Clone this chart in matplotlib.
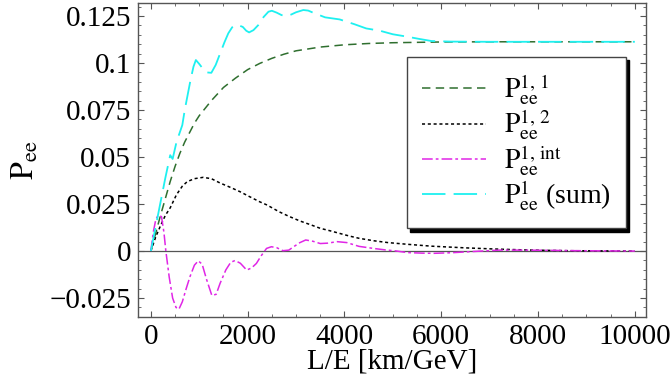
import matplotlib
matplotlib.use("Agg")
import matplotlib.pyplot as plt
from matplotlib.ticker import MultipleLocator

plt.rcParams["font.family"] = ["Liberation Serif", "DejaVu Serif"]
plt.rcParams["mathtext.fontset"] = "stix"

# ── values (L/E in km/GeV, P_ee) ────────────────────────────────────────────
le_11 = [0, 100, 200, 300, 400, 500, 600, 700, 800, 900, 1000, 1250, 1500, 1750,
         2000, 2250, 2500, 2750, 3000, 3500, 4000, 4500, 5000, 5500, 6000, 7000,
         8000, 9000, 10000]
p_11 = [0, 0.0095, 0.019, 0.028, 0.037, 0.045, 0.052, 0.058, 0.063, 0.068, 0.072,
        0.080, 0.087, 0.092, 0.0965, 0.0998, 0.1025, 0.1047, 0.1065, 0.1085, 0.1097,
        0.1104, 0.1108, 0.1110, 0.1112, 0.1113, 0.1113, 0.1113, 0.1113]

le_12 = [0, 100, 200, 300, 400, 530, 650, 750, 900, 1080, 1250, 1430, 1650, 1840,
         2050, 2250, 2400, 2650, 2850, 3080, 3300, 3500, 3700, 3900, 4100, 4300,
         4600, 4900, 5300, 5800, 6500, 7200, 7900, 8600, 10000]
p_12 = [0, 0.0075, 0.0135, 0.019, 0.023, 0.0300, 0.0345, 0.0369, 0.0385, 0.0392,
        0.0385, 0.0362, 0.0338, 0.0316, 0.0288, 0.0262, 0.0245, 0.0209, 0.0185,
        0.0160, 0.0140, 0.0121, 0.0108, 0.0094, 0.0080, 0.0068, 0.0055, 0.0045,
        0.0036, 0.0026, 0.0017, 0.0010, 0.0005, 0.0002, 0.0]

le_int = [0, 50, 100, 150, 220, 270, 310, 380, 450, 520, 580, 650, 730, 810, 900,
          980, 1060, 1150, 1260, 1350, 1430, 1550, 1650, 1740, 1850, 1980, 2080,
          2180, 2280, 2390, 2490, 2600, 2730, 2850, 2950, 3080, 3200, 3350, 3500,
          3650, 3850, 4050, 4300, 4600, 4850, 5050, 5300, 5600, 5850, 6200, 6550,
          6900, 7200, 7600, 8200, 8800, 9400, 10000]
p_int = [0, 0.010, 0.0165, 0.0191, 0.0183, 0.010, 0.0, -0.014, -0.025, -0.0300,
         -0.0309, -0.027, -0.020, -0.0135, -0.0075, -0.0052, -0.0070, -0.0150,
         -0.0236, -0.0230, -0.0172, -0.0100, -0.0060, -0.0050, -0.0065, -0.0101,
         -0.0090, -0.0066, -0.0025, 0.0014, 0.0023, 0.0018, 0.0002, 0.0005, 0.0023,
         0.0045, 0.0059, 0.0052, 0.0040, 0.0042, 0.0050, 0.0045, 0.0025, 0.0014,
         0.0006, 0.0001, -0.0008, -0.0011, -0.0012, -0.0009, -0.0004, 0.0001,
         0.0005, 0.0005, 0.0004, 0.0002, 0.0001, 0.0]

le_sum = [0, 100, 200, 300, 400, 450, 530, 650, 700, 760, 820, 880, 930, 1000, 1080,
          1160, 1250, 1340, 1430, 1520, 1600, 1680, 1740, 1820, 1900, 1970, 2030,
          2120, 2220, 2330, 2430, 2500, 2600, 2700, 2800, 2900, 3000, 3150, 3250,
          3350, 3600, 3900, 4200, 4450, 4730, 5000, 5300, 5550, 5800, 6200, 7000,
          8000, 9000, 10000]
p_sum = [0, 0.013, 0.026, 0.039, 0.051, 0.049, 0.058, 0.067, 0.075, 0.083, 0.091,
         0.098, 0.1016, 0.0995, 0.0968, 0.0950, 0.0948, 0.0990, 0.1050, 0.1110,
         0.1158, 0.1190, 0.1202, 0.1200, 0.1192, 0.1172, 0.1163, 0.1175, 0.1202,
         0.1245, 0.1273, 0.1278, 0.1268, 0.1255, 0.1250, 0.1258, 0.1270, 0.1282,
         0.1279, 0.1268, 0.1243, 0.1232, 0.1207, 0.1184, 0.1172, 0.1153, 0.1140,
         0.1128, 0.1117, 0.1114, 0.1113, 0.1113, 0.1113, 0.1113]

labels = [r"$\mathrm{P}_{\mathrm{ee}}^{1,\,1}$",
          r"$\mathrm{P}_{\mathrm{ee}}^{1,\,2}$",
          r"$\mathrm{P}_{\mathrm{ee}}^{1,\,\mathrm{int}}$",
          r"$\mathrm{P}_{\mathrm{ee}}^{1}$ (sum)"]

fig = plt.figure(figsize=(6.71, 3.82), dpi=100)
ax = fig.add_axes([0.2057, 0.170, 0.7570, 0.822])

ax.axhline(0, color="#555555", lw=0.9, zorder=1)
ax.plot(le_11, p_11, color="#2f6f2f", lw=1.1, dashes=(5.5, 3.5), label=labels[0])
ax.plot(le_12, p_12, color="black", lw=1.1, dashes=(2.0, 1.8), label=labels[1])
ax.plot(le_int, p_int, color="#e026e6", lw=1.1, dashes=(7.0, 2.0, 1.8, 2.0), label=labels[2])
ax.plot(le_sum, p_sum, color="#1ef0f0", lw=1.3, dashes=(13.0, 4.5), label=labels[3])

ax.set_xlim(-265, 10230)
ax.set_ylim(-0.0351, 0.1319)
ax.xaxis.set_major_locator(MultipleLocator(2000))
ax.xaxis.set_minor_locator(MultipleLocator(500))
ax.yaxis.set_minor_locator(MultipleLocator(0.005))
ax.set_yticks([-0.025, 0, 0.025, 0.05, 0.075, 0.1, 0.125])
ax.set_yticklabels(["\u22120.025", "0", "0.025", "0.05", "0.075", "0.1", "0.125"])
ax.tick_params(which="both", direction="in", top=True, right=True,
               color="#555555", labelsize=21, pad=5)
ax.tick_params(which="major", length=4, width=0.8)
ax.tick_params(which="minor", length=2, width=0.6)
for s in ax.spines.values():
    s.set_color("#555555")
    s.set_linewidth(1.0)

ax.set_xlabel("L/E [km/GeV]", fontsize=21, labelpad=-1)
ax.set_ylabel(r"$\mathrm{P}_{\mathrm{ee}}$", fontsize=23, labelpad=6)

leg = ax.legend(loc="upper right", bbox_to_anchor=(0.9606, 0.828), borderaxespad=0,
                fontsize=20, handlelength=2.3, handletextpad=0.65, labelspacing=0.02,
                borderpad=0.55, fancybox=False, framealpha=1,
                shadow={"color": "black", "alpha": 1, "ox": 2.2, "oy": -2.2})
leg.get_frame().set_edgecolor("#444444")
leg.get_frame().set_linewidth(1.0)

fig.savefig("out.png", dpi=100)
